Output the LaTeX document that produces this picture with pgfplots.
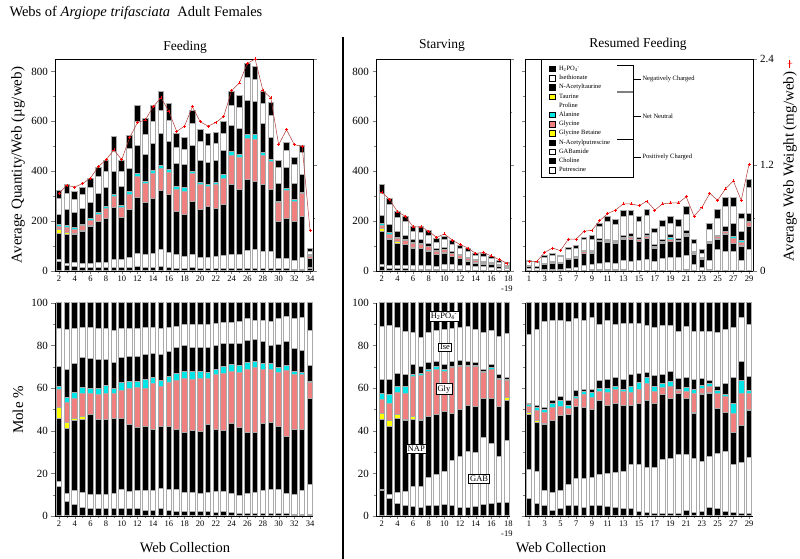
\documentclass[border=0pt]{standalone}
\usepackage{pgfplots}
\pgfplotsset{compat=1.18}
\usepackage{pgfplotstable}
\usepackage{fontspec}
\setmainfont{Liberation Serif}
\definecolor{pinkc}{RGB}{240,128,128}
\definecolor{cyanc}{RGB}{0,230,230}
\definecolor{yellowc}{RGB}{255,255,0}
\definecolor{bargray}{RGB}{170,170,170}
\definecolor{wred}{RGB}{175,55,55}

% cumulative tops of the stacked components (ug/web), web weight in mg/web
\pgfplotstableread{
x cho gab nap gb gly ala nat ise tot wt
2 40 45 152 165 180 188 225 290 322 0.88
3 22 32 145 155 175 182 245 312 345 0.97
4 18 35 148 150 168 175 233 285 318 0.95
5 15 32 160 161 182 188 252 305 335 0.99
6 15 32 180 181 202 210 275 335 370 1.05
7 14 33 197 197 225 233 312 378 415 1.18
8 14 35 212 212 250 258 335 400 445 1.26
9 15 48 255 255 298 306 400 480 540 1.37
10 14 48 215 215 255 262 337 400 445 1.26
11 14 55 248 248 308 318 412 490 545 1.51
12 18 70 295 295 380 390 502 600 665 1.68
13 14 65 275 275 350 360 468 548 610 1.71
14 14 72 290 290 392 402 512 600 665 1.86
15 18 85 322 322 410 422 550 645 720 1.96
16 15 75 305 305 395 408 518 605 670 1.81
17 12 65 240 240 325 338 430 495 550 1.58
18 11 58 225 225 320 333 427 487 537 1.64
19 14 65 280 280 390 400 505 590 642 1.86
20 12 55 248 248 345 355 445 520 568 1.69
21 12 55 258 258 338 348 435 505 553 1.64
22 12 58 250 250 345 355 445 510 555 1.68
23 12 62 268 268 372 385 485 550 600 1.75
24 12 68 345 345 465 478 585 665 720 2.04
25 12 65 325 325 455 468 570 655 705 2.13
26 11 82 366 366 530 548 682 776 833 2.35
27 10 85 358 358 528 548 680 768 820 2.40
28 10 80 345 345 465 475 590 672 720 2.04
29 10 78 325 325 438 448 535 625 675 1.96
30 8 52 200 200 275 280 350 415 445 1.43
31 8 52 212 212 322 330 415 485 515 1.60
32 6 42 200 200 280 285 350 425 455 1.43
33 6 55 220 220 310 315 385 475 502 1.41
34 8 15 52 52 60 62 68 80 90 0.46
}\feedtop

\pgfplotstableread{
x cho gab nap gb gly ala nat ise tot wt
2 20 25 160 170 182 190 222 312 345 0.89
3 12 22 125 132 148 155 185 265 290 0.81
4 10 22 112 118 130 135 158 215 240 0.67
5 8 22 105 108 122 126 142 197 218 0.62
6 6 22 92 94 110 114 128 158 180 0.50
7 6 22 90 92 108 111 125 155 178 0.50
8 5 22 80 82 98 100 110 142 162 0.45
9 5 20 65 66 80 82 90 115 130 0.38
10 5 25 72 73 85 87 95 125 140 0.42
11 4 25 58 59 70 72 80 108 122 0.35
12 4 22 50 51 62 63 68 90 102 0.30
13 3 22 40 41 50 51 56 78 90 0.26
14 3 18 32 33 42 43 46 62 72 0.20
15 3 17 28 29 36 37 40 60 70 0.21
16 3 15 25 26 32 33 36 50 60 0.17
17 2 12 18 18.5 23 23.5 25 36 44 0.13
18 2 10 15 15.5 19 19.5 21 30 36 0.09
}\starvtop

\pgfplotstableread{
x cho gab nap gb gly ala nat ise tot wt
1 3 9 20 20.5 22 22.5 23 38 44 0.11
2 2 8 17 17.5 19 19.5 20 33 38 0.11
3 2 5 27 27.5 29.5 30.5 31 56 62 0.21
4 2 7 32 32.5 35 36 37 64 71 0.26
5 2 7 31 31.3 33 34 35 58 64 0.23
6 3 12 46 46.5 49 50 52 87 95 0.36
7 3 16 52 52.5 57 58 60 91 101 0.36
8 3 22 70 70.5 78 79 81 125 136 0.45
9 4 25 72 72.5 80 82 84 125 141 0.46
10 5 30 118 118.5 122 123 130 180 192 0.57
11 4 35 115 115.5 120 121 128 199 219 0.65
12 4 30 110 110.5 116 117 122 185 205 0.69
13 4 44 126 126.5 132 133 144 219 243 0.76
14 3 40 125 125.5 135 140 152 221 243 0.76
15 2 42 118 118.5 126 128 135 199 219 0.74
16 2 47 130 130.5 140 143 152 221 248 0.79
17 2 37 92 92.5 98 99 106 154 172 0.69
18 2 50 112 112.5 118 119 128 178 203 0.76
19 2 55 118 118.5 128 133 145 192 219 0.77
20 2 55 118 118.5 121 122 132 178 205 0.77
21 4 64 140 140.5 148 150 162 225 258 0.84
22 2 28 68 68.5 75 76 80 109 128 0.62
23 2 15 45 45.5 50 51 53 72 87 0.72
24 4 44 112 112.5 117 118 120 165 192 0.88
25 3 85 128 128.5 137 139 142 210 248 0.80
26 3 78 148 148.5 158 160 178 259 293 0.93
27 3 78 111 111.5 131 138 192 259 293 1.02
28 2 44 100 100.5 115 122 158 212 230 0.80
29 2 85 178 178.5 193 198 232 333 366 1.21
}\restop

% cumulative mole %
\pgfplotstableread{
x cho gab nap gb gly ala nat ise tot
2 14 16 46 51 59.5 61 70 88 100
3 7 10.5 41 44 53.5 55.5 69 87.5 100
4 5.5 12 45 46 55 58 71.5 88 100
5 4 11 45.5 46.5 57.5 60.5 74.5 88.5 100
6 3.5 10 47.5 47.5 57.5 60 74 88.5 100
7 3.5 10 45.5 45.5 57 60 73.5 88 100
8 3.5 10 45.5 45.5 57.5 61.5 73.5 88 100
9 3.5 10.5 46 46 57.5 60 72 87 100
10 3.5 12.5 46 46 59 62.5 74.5 88 100
11 3.5 11.5 43 43 60 63 75 88 100
12 3.5 12 41.5 41.5 60.5 63 75 88 100
13 2.5 12 42 42 60 64 76 88.5 100
14 2.5 12 40.5 40.5 62 65 76.5 88.5 100
15 3.5 13 42 42 61 63.5 76 88 100
16 2.5 12.5 42 42 62.5 65.5 77 88.5 100
17 2 12.5 40.5 40.5 63.5 67 79 89 100
18 2 11 39 39 64.5 68 80 90 100
19 2 11 40 40 64 68 79 90 100
20 2 10.5 39.5 39.5 64.5 68 79 90 100
21 2 11 43 43 64.5 67.5 79 90 100
22 1.5 11.5 40.5 40.5 66.5 69 80 90.5 100
23 2 11.5 40 40 67 70 81 91 100
24 1.5 10.5 43.5 43.5 68 71 81 91 100
25 1 9.5 41.5 41.5 67.5 70.5 81 91.5 100
26 1 10.5 39 39 69 72 82.5 92.5 100
27 1 11 39 39 69.5 72.5 83 92 100
28 1 12 43.5 43.5 69 71.5 82 92 100
29 1 12.5 44 44 69 71.5 80 91.5 100
30 1 12.5 42 42 67.5 69.5 80.5 92.5 100
31 1 10.5 37.5 37.5 68.5 70.5 82 93.5 100
32 0.5 10 40.5 40.5 66.5 68 78.5 92.5 100
33 0.5 12 40.5 40.5 66.5 67.5 77.5 93 100
34 0.5 15 55 55 62.5 63 70.5 87 100
}\feedmol

\pgfplotstableread{
x cho gab nap gb gly ala nat ise tot
2 12 12.5 45.5 48 54.5 57.5 64 89 100
3 8 10 42 45 53 57 64 89.5 100
4 6 11 46 47.5 58 61 67 88.5 100
5 5 11.5 45 45.5 57.5 61 66.5 86.5 100
6 4.5 14 45.5 46.5 65.5 66.5 71 86 100
7 4 14 45 45.5 66 67 70 84 100
8 5 18 46.5 46.5 68 69 72 86 100
9 5 19.5 47.5 47.5 69 70 72.5 87 100
10 5.5 21 49 49 68 69 71 87.5 100
11 5 26 48 48 69.5 70 72.5 88 100
12 4 28 50 50 70 70.5 73 88.5 100
13 4 30.5 52 52 70 70.5 72.5 89 100
14 4.5 30 51.5 51.5 70 70.5 72 87.5 100
15 5.5 37 55 55 67.5 68 69 86 100
16 6 34 55 55 69 69.5 71 87 100
17 6.5 28 51.5 51.5 64 64.5 66.5 84.5 100
18 6.5 35.5 54 55.5 63.5 64 65 85.5 100
}\starvmol

\pgfplotstableread{
x cho gab nap gb gly ala nat ise tot
1 8 22 47.5 48.5 51.5 52.5 53 85 100
2 6 21 44 45 49.5 51 52 87.5 100
3 5 12 43 43.5 48.5 50 51 91.5 100
4 2.5 11 45 45 51 53 54 92 100
5 3.5 12 47 47 51.5 54 56 92 100
6 5 15 47.5 47.5 50.5 52 54 91.5 100
7 5 17.5 51.5 51.5 55 56 59 92.5 100
8 4 17.5 51 51 57 58.5 59.5 92 100
9 5 18 50 50 55.5 58 59.5 93 100
10 5 19.5 54 54 58.5 60 63.5 90 100
11 4.5 20 52 52 58 60 64 92 100
12 4 20.5 53 53 59.5 61 65 90 100
13 3.5 21 52 52 58.5 59.5 64 90.5 100
14 3.5 24 52 52 58 61 66.5 90.5 100
15 2 24 53 53 59.5 62.5 67 90.5 100
16 1.5 23 54 54 62 65 67.5 89.5 100
17 1 23 53 53 58.5 61 66 88.5 100
18 1 26.5 57 57 60.5 62 66.5 89.5 100
19 1 27 55 55 61 63 68 89.5 100
20 1 29 57.5 57.5 59 59.5 64.5 86.5 100
21 2.5 29 55 55 58.5 60.5 65 89 100
22 1.5 27 48 48.5 57.5 59.5 64 86.5 100
23 2 25.5 57 57.5 60 61.5 64.5 86.5 100
24 4 28 57.5 58 61 62 63.5 86.5 100
25 3.5 29.5 50.5 50.5 57.5 59 61 86 100
26 2 30.5 48.5 48.5 56 57 62 87.5 100
27 1.5 24 39 39 48 53 65 88.5 100
28 1 25 42.5 42.5 57.5 63.5 72.5 93 100
29 1 27.5 49.5 50 57.5 59 65.5 90 100
}\resmol

\pgfplotsset{
  seg/.style={ybar, bar width=5.6pt, bar shift=0pt, draw=bargray, line width=1pt},
  sqlegend/.style={legend image code/.code={\draw[##1,draw=black,line width=0.4pt] (0pt,-2.6pt) rectangle (6pt,2.9pt);}},
  wline/.style={wred, line width=0.5pt, mark=+, mark size=1.5pt, mark options={red, line width=0.6pt}},
  panel/.style={scale only axis, anchor=south west, tick align=outside,
    major tick length=3.5pt, minor tick length=2.2pt,
    /pgf/number format/assume math mode=true,
    yticklabel style={font=\fontsize{11}{11}\selectfont},
    xticklabel style={font=\fontsize{8.5}{8.5}\selectfont, inner sep=1.5pt},
    axis line style={line width=0.7pt}},
  toprow/.style={panel, height=212pt, ymin=0, ymax=850, ytick={0,200,...,800},
    minor ytick={100,300,...,700}, tick pos=left},
  botrow/.style={panel, height=213pt, ymin=0, ymax=100, ytick={0,20,...,100},
    minor ytick={10,30,...,90}, axis x line*=bottom, axis y line*=left},
  wt/.style={panel, height=212pt, ymin=0, ymax=2.4, axis x line=none, axis y line*=right,
    ytick={0,1.2,2.4}, minor ytick={0.6,1.8}},
  feedx/.style={width=258pt, xmin=1.49, xmax=34.38, xtick={2,4,...,34}, minor xtick={3,5,...,33}},
  starvx/.style={width=134pt, xmin=1.25, xmax=18.4, xtick={2,4,...,18}, minor xtick={3,5,...,17},
    xticklabels={2,4,6,8,10,12,14,16,{18\\-19}},
    xticklabel style={align=right, font=\fontsize{8.5}{9.5}\selectfont}},
  resx/.style={width=228pt, xmin=0.49, xmax=29.5, xtick={1,3,...,29}, minor xtick={2,4,...,28}},
}

\newcommand{\stackbars}[1]{%
  \addplot[seg,fill=black] table[x=x,y=tot]{#1};
  \addplot[seg,fill=white] table[x=x,y=ise]{#1};
  \addplot[seg,fill=black] table[x=x,y=nat]{#1};
  \addplot[seg,fill=cyanc] table[x=x,y=ala]{#1};
  \addplot[seg,fill=pinkc] table[x=x,y=gly]{#1};
  \addplot[seg,fill=yellowc] table[x=x,y=gb]{#1};
  \addplot[seg,fill=black] table[x=x,y=nap]{#1};
  \addplot[seg,fill=white] table[x=x,y=gab]{#1};
  \addplot[seg,fill=black] table[x=x,y=cho]{#1};
}

\begin{document}
\begin{tikzpicture}
\useasboundingbox (0pt,0pt) rectangle (800pt,559pt);

% ---------- top row ----------
\begin{axis}[toprow, feedx, at={(55pt,288pt)}]
  \stackbars{\feedtop}
\end{axis}
\begin{axis}[wt, feedx, at={(55pt,288pt)}, yticklabels={}]
  \addplot[wline] table[x=x,y=wt]{\feedtop};
\end{axis}

\begin{axis}[toprow, starvx, at={(376pt,288pt)}]
  \stackbars{\starvtop}
\end{axis}
\begin{axis}[wt, starvx, at={(376pt,288pt)}, yticklabels={}]
  \addplot[wline] table[x=x,y=wt]{\starvtop};
\end{axis}

\begin{axis}[toprow, resx, at={(525pt,288pt)}, yticklabels={},
  legend cell align=left,
  legend style={at={(0.105,0.969)}, anchor=north west, draw=none, fill=none,
    inner sep=0pt, font=\fontsize{6.5}{6.5}\selectfont, row sep=2.7pt, column sep=3.5pt,
    nodes={inner sep=0pt, text height=4.8pt, text depth=1.7pt}}]
  \addplot[seg,sqlegend,fill=black] table[x=x,y=tot]{\restop};
  \addlegendentry{H\textsubscript{2}PO\textsubscript{4}\textsuperscript{-}}
  \addplot[seg,sqlegend,fill=white] table[x=x,y=ise]{\restop};
  \addlegendentry{Isethionate}
  \addplot[seg,sqlegend,fill=black] table[x=x,y=nat]{\restop};
  \addlegendentry{N-Acetyltaurine}
  \addlegendimage{sqlegend,fill=yellowc}
  \addlegendentry{Taurine}
  \addlegendimage{empty legend}
  \addlegendentry{Proline}
  \addplot[seg,sqlegend,fill=cyanc] table[x=x,y=ala]{\restop};
  \addlegendentry{Alanine}
  \addplot[seg,sqlegend,fill=pinkc] table[x=x,y=gly]{\restop};
  \addlegendentry{Glycine}
  \addplot[seg,sqlegend,fill=yellowc] table[x=x,y=gb]{\restop};
  \addlegendentry{Glycine Betaine}
  \addplot[seg,sqlegend,fill=black] table[x=x,y=nap]{\restop};
  \addlegendentry{N-Acetylputrescine}
  \addplot[seg,sqlegend,fill=white] table[x=x,y=gab]{\restop};
  \addlegendentry{GABamide}
  \addplot[seg,sqlegend,fill=black] table[x=x,y=cho]{\restop};
  \addlegendentry{Choline}
  \addlegendimage{sqlegend,fill=white}
  \addlegendentry{Putrescine}
  % legend frame and charge brackets
  \draw[line width=0.5pt] (rel axis cs:0.07,1) -- (rel axis cs:0.07,0.443) -- (rel axis cs:0.474,0.443) -- (rel axis cs:0.474,0.972);
  \draw[line width=0.5pt] (rel axis cs:0.404,0.972) -- (rel axis cs:0.474,0.972);
  \draw[gray, line width=1.5pt] (rel axis cs:0.404,0.844) -- (rel axis cs:0.472,0.844);
  \draw[line width=0.5pt] (rel axis cs:0.404,0.623) -- (rel axis cs:0.474,0.623);
  \draw[line width=0.5pt] (rel axis cs:0.474,0.906) -- (rel axis cs:0.51,0.906)
     node[anchor=west, inner sep=1pt, font=\fontsize{6.5}{6.5}\selectfont] {Negatively Charged};
  \draw[line width=0.5pt] (rel axis cs:0.474,0.731) -- (rel axis cs:0.51,0.731)
     node[anchor=west, inner sep=1pt, font=\fontsize{6.5}{6.5}\selectfont] {Net Neutral};
  \draw[line width=0.5pt] (rel axis cs:0.474,0.538) -- (rel axis cs:0.51,0.538)
     node[anchor=west, inner sep=1pt, font=\fontsize{6.5}{6.5}\selectfont] {Positively Charged};
\end{axis}
\begin{axis}[wt, resx, at={(525pt,288pt)}]
  \addplot[wline] table[x=x,y=wt]{\restop};
\end{axis}

% ---------- bottom row ----------
\begin{axis}[botrow, feedx, at={(55pt,43pt)}]
  \stackbars{\feedmol}
\end{axis}

\begin{axis}[botrow, starvx, at={(376pt,43pt)}]
  \stackbars{\starvmol}
  \begin{scope}[every node/.style={draw=black, fill=white, line width=0.4pt, inner sep=1.5pt, font=\fontsize{8.5}{8.5}\selectfont}]
    \node at (axis cs:9.95,93.9) {H\textsubscript{2}PO\textsubscript{4}\textsuperscript{-}};
    \node at (axis cs:10.08,79.3) {Ise};
    \node at (axis cs:9.95,59.6) {Gly};
    \node at (axis cs:6.4,31.5) {NAP};
    \node at (axis cs:14.45,17.4) {GAB};
  \end{scope}
\end{axis}

\begin{axis}[botrow, resx, at={(525pt,43pt)}, yticklabels={}]
  \stackbars{\resmol}
\end{axis}

% ---------- texts ----------
\node[anchor=west, font=\fontsize{14.5}{14.5}\selectfont] at (6pt,546pt)
  {Webs of \textit{Argiope trifasciata}\ \ Adult Females};
\node[font=\fontsize{13.5}{13.5}\selectfont] at (185pt,512pt) {Feeding};
\node[font=\fontsize{13.5}{13.5}\selectfont] at (442pt,514pt) {Starving};
\node[font=\fontsize{13.5}{13.5}\selectfont] at (638pt,515pt) {Resumed Feeding};
\node[rotate=90, font=\fontsize{15}{15}\selectfont] at (18pt,394pt) {Average Quantity/Web (µg/web)};
\node[rotate=90, font=\fontsize{15}{15}\selectfont] at (18pt,149pt) {Mole \%};
\node[rotate=90, font=\fontsize{15}{15}\selectfont] at (790pt,398pt)
  {Average Web Weight (mg/web)\ \textcolor{red}{\rule[0.55ex]{8pt}{0.6pt}\hspace{-6.6pt}\raisebox{0.02ex}{\fontsize{10}{10}\selectfont +}}};
\node[font=\fontsize{14.5}{14.5}\selectfont] at (185pt,11pt) {Web Collection};
\node[font=\fontsize{14.5}{14.5}\selectfont] at (561pt,11pt) {Web Collection};
\draw[line width=1.6pt] (343pt,522pt) -- (343pt,0pt);
\end{tikzpicture}
\end{document}
